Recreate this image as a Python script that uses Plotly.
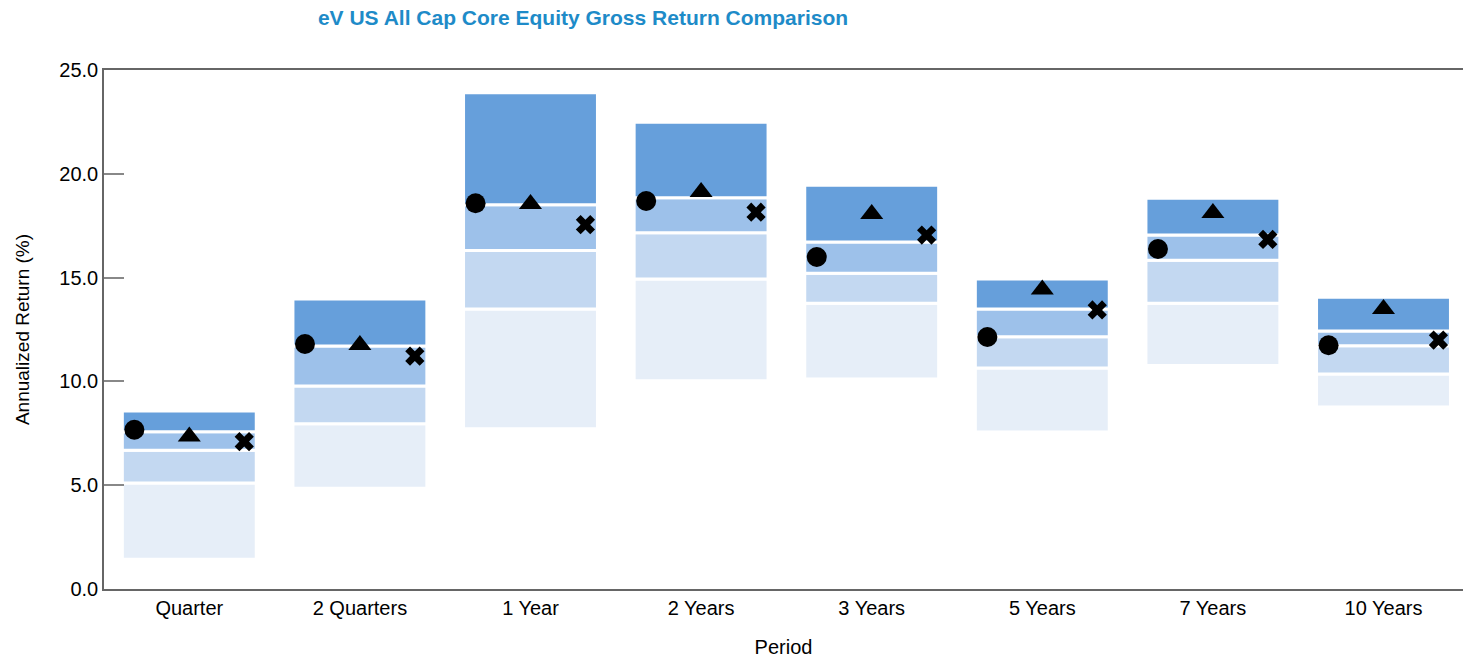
import plotly.graph_objects as go

periods = ["Quarter", "2 Quarters", "1 Year", "2 Years", "3 Years", "5 Years", "7 Years", "10 Years"]
p95 = [8.57, 13.97, 23.91, 22.48, 19.45, 14.93, 18.82, 14.05]
p75 = [7.58, 11.70, 18.51, 18.85, 16.71, 13.49, 17.05, 12.43]
p50 = [6.68, 9.78, 16.30, 17.16, 15.21, 12.15, 15.83, 11.72]
p25 = [5.11, 7.96, 13.49, 14.93, 13.76, 10.65, 13.76, 10.36]
p5 = [1.43, 4.85, 7.72, 10.03, 10.12, 7.56, 10.76, 8.77]
circle_vals = [7.67, 11.80, 18.58, 18.69, 15.99, 12.14, 16.38, 11.74]
triangle_vals = [7.34, 11.75, 18.55, 19.12, 18.06, 14.43, 18.11, 13.49]
cross_vals = [7.10, 11.22, 17.55, 18.15, 17.05, 13.44, 16.84, 11.99]
y_ticks = [0, 5, 10, 15, 20, 25]

idx = list(range(len(periods)))
colors = ["#E6EEF8", "#C3D8F1", "#9DC1EA", "#669FDB"]
bounds = [(p5, p25), (p25, p50), (p50, p75), (p75, p95)]

fig = go.Figure()
for (lo, hi), c in zip(bounds, colors):
    fig.add_trace(go.Bar(
        x=idx, base=lo, y=[h - l for l, h in zip(lo, hi)],
        width=0.785, marker=dict(color=c, line=dict(color="white", width=3)),
        showlegend=False, hoverinfo="skip"))

off = 0.322
fig.add_trace(go.Scatter(x=[i - off for i in idx], y=circle_vals, mode="markers",
                         marker=dict(symbol="circle", size=20, color="black"), showlegend=False))
fig.add_trace(go.Scatter(x=idx, y=triangle_vals, mode="markers",
                         marker=dict(symbol="triangle-up", size=20, color="black"), showlegend=False))
fig.add_trace(go.Scatter(x=[i + off for i in idx], y=cross_vals, mode="markers",
                         marker=dict(symbol="x", size=17, color="black"), showlegend=False))

fig.update_layout(
    width=1465, height=659, barmode="overlay",
    paper_bgcolor="white", plot_bgcolor="white",
    margin=dict(l=104, r=2, t=70, b=70),
    font=dict(family="Liberation Sans, Arial, sans-serif", color="black"),
    title=dict(text="<b>eV US All Cap Core Equity Gross Return Comparison</b>",
               font=dict(family="Liberation Sans, Arial, sans-serif", size=21, color="#1E8BC8"),
               x=583 / 1465, xanchor="center", xref="container", y=1 - 18 / 659, yanchor="middle", yref="container"),
    xaxis=dict(range=[-0.5, 7.466], tickmode="array", tickvals=idx, ticktext=periods,
               showline=True, linecolor="#666666", linewidth=1.5, mirror=True, ticks="",
               showgrid=False, zeroline=False, tickfont=dict(size=20),
               title=dict(text="Period", font=dict(size=20), standoff=22)),
    yaxis=dict(range=[0, 25], tickmode="array", tickvals=y_ticks, tickformat=".1f",
               showline=True, linecolor="#666666", linewidth=1.5, ticks="inside", ticklen=20,
               tickcolor="#888888", tickwidth=1.5, showgrid=False, zeroline=False,
               tickfont=dict(size=20),
               title=dict(text="Annualized Return (%)", font=dict(size=19), standoff=25)),
)

fig.write_html("out.html", config={"displayModeBar": False},
               post_script="document.body.style.margin='0';document.body.style.overflow='hidden';")
